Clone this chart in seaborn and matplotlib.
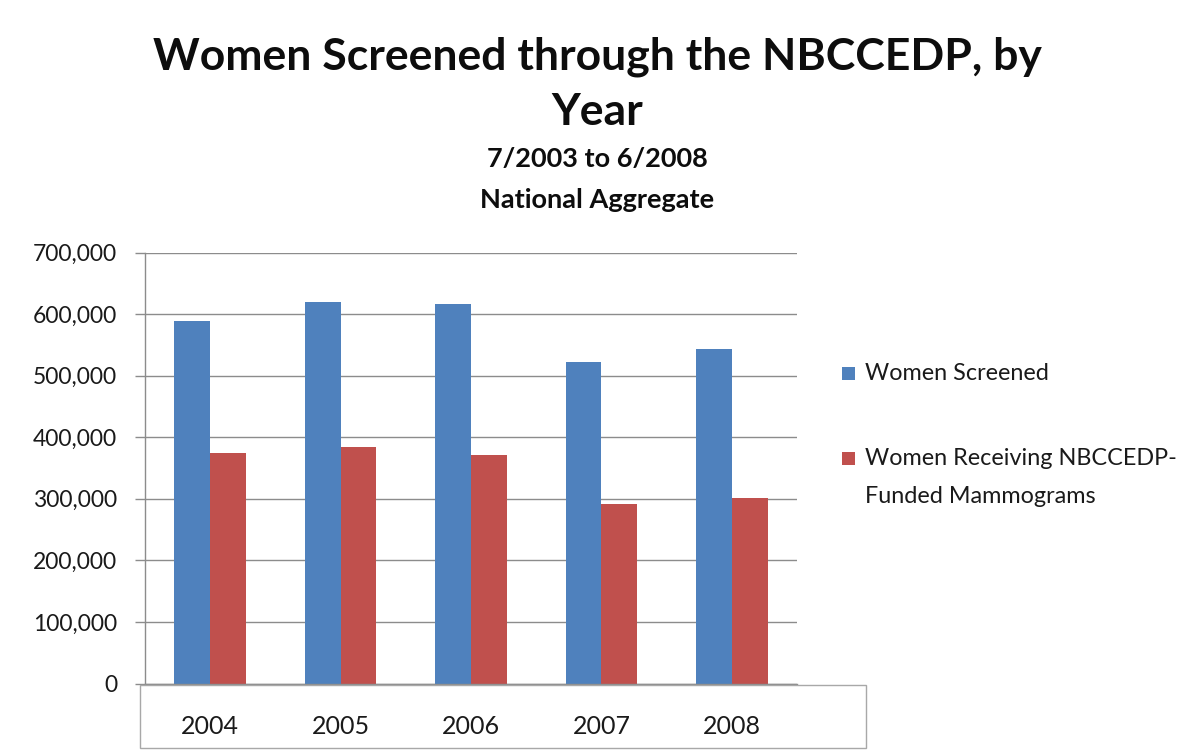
import matplotlib
matplotlib.use("Agg")
import matplotlib.pyplot as plt
from matplotlib.patches import Rectangle
from matplotlib.ticker import FuncFormatter
import seaborn as sns
import pandas as pd

# ---- data ----
years = ["2004", "2005", "2006", "2007", "2008"]
women_screened = [589000, 619000, 616000, 522000, 543000]
women_mammograms = [375000, 384000, 371000, 292000, 301000]
series_names = ["Women Screened", "Women Receiving NBCCEDP-\nFunded Mammograms"]
yticks = [0, 100000, 200000, 300000, 400000, 500000, 600000, 700000]
colors = ["#4F81BD", "#C0504D"]

df = pd.DataFrame({
    "Year": years * 2,
    "Series": [series_names[0]] * len(years) + [series_names[1]] * len(years),
    "Value": women_screened + women_mammograms,
})

sns.set_style("white")
plt.rcParams["font.family"] = ["Lato", "DejaVu Sans"]

W, H = 1194, 752
fig = plt.figure(figsize=(W / 100, H / 100), dpi=100)
ax = fig.add_axes([145 / W, 1 - 683.5 / H, (797 - 145) / W, (683.5 - 252.5) / H])

sns.barplot(data=df, x="Year", y="Value", hue="Series", palette=colors,
            width=0.55, saturation=1, errorbar=None, legend=False, ax=ax,
            linewidth=0, edgecolor="none")

ax.set_ylim(0, 700000)
ax.set_yticks(yticks)
ax.yaxis.set_major_formatter(FuncFormatter(lambda v, p: f"{int(v):,}"))
ax.set_xlabel("")
ax.set_ylabel("")
ax.grid(axis="y", color="#8c8c8c", linewidth=1.0)
ax.set_axisbelow(True)
for s in ["top", "right"]:
    ax.spines[s].set_visible(False)
for s in ["left", "bottom"]:
    ax.spines[s].set_color("#8c8c8c")
    ax.spines[s].set_linewidth(1.0)
ax.tick_params(axis="y", which="both", left=True, length=7, width=1, color="#8c8c8c",
               labelsize=16.5, labelcolor="#1a1a1a", pad=13)
ax.tick_params(axis="x", which="both", bottom=False, labelsize=18, labelcolor="#1a1a1a", pad=19)

# category area frame
fig.add_artist(Rectangle((140 / W, 1 - 748 / H), (866 - 140) / W, (748 - 685) / H,
                         transform=fig.transFigure, fill=False, edgecolor="#a8a8a8", linewidth=1.0))

# titles
fig.text(0.5, 1 - 57 / H, "Women Screened through the NBCCEDP, by", ha="center", va="center",
         fontsize=32, fontweight="bold", color="#0d0d0d")
fig.text(0.5, 1 - 112 / H, "Year", ha="center", va="center",
         fontsize=32, fontweight="bold", color="#0d0d0d")
fig.text(0.5, 1 - 159 / H, "7/2003 to 6/2008", ha="center", va="center",
         fontsize=19.5, fontweight="bold", color="#0d0d0d")
fig.text(0.5, 1 - 200 / H, "National Aggregate", ha="center", va="center",
         fontsize=19.5, fontweight="bold", color="#0d0d0d")

# legend
for c, name, yy in zip(colors, series_names, [373, 458]):
    fig.add_artist(Rectangle((842 / W, 1 - (yy + 6.5) / H), 13 / W, 13 / H,
                             transform=fig.transFigure, facecolor=c, edgecolor="none"))
    if "\n" in name:
        fig.text(865 / W, 1 - (yy - 10) / H, name, ha="left", va="top",
                 fontsize=16.8, color="#1a1a1a", linespacing=2.0)
    else:
        fig.text(865 / W, 1 - yy / H, name, ha="left", va="center",
                 fontsize=16.8, color="#1a1a1a")

fig.savefig("out.png", dpi=100, facecolor="white")
